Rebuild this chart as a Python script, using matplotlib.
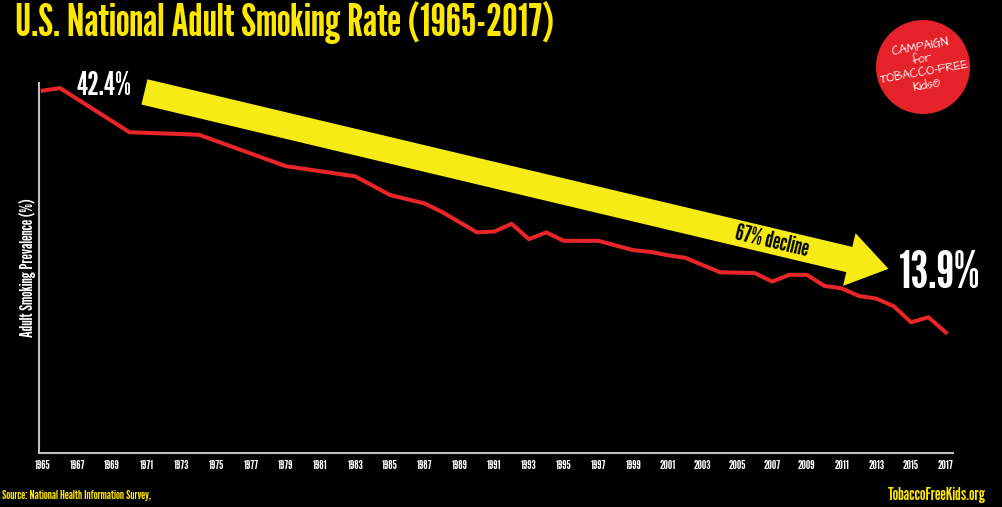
import matplotlib
matplotlib.use("Agg")
import matplotlib.pyplot as plt
from matplotlib.patches import Circle

plt.rcParams['font.family'] = ['League Gothic', 'Antonio', 'DejaVu Sans']

# adult smoking prevalence (%)
years = [1965, 1966, 1970, 1974, 1979, 1983, 1985, 1987, 1988, 1990, 1991,
         1992, 1993, 1994, 1995, 1997, 1999, 2000, 2001, 2002, 2004, 2006,
         2007, 2008, 2009, 2010, 2011, 2012, 2013, 2014, 2015, 2016, 2017]
rates = [42.4, 42.7, 37.5, 37.2, 33.5, 32.3, 30.1, 29.1, 28.1, 25.7, 25.8,
         26.7, 24.9, 25.7, 24.7, 24.7, 23.6, 23.4, 23.0, 22.7, 21.0, 20.9,
         19.9, 20.7, 20.7, 19.4, 19.1, 18.2, 17.9, 17.0, 15.1, 15.7, 13.9]
tick_years = list(range(1965, 2018, 2))
first_label = "42.4%"
last_label = "13.9%"
decline_label = "67% decline"

yellow = "#F7EB15"
title_yellow = "#FFE800"
red = "#E8262A"

fig = plt.figure(figsize=(10.03, 5.07), dpi=100, facecolor="black")
ax = fig.add_axes([0.0389, 0.1065, 0.911, 0.7298])
ax.set_facecolor("black")

ax.plot(years, rates, color=red, lw=2.9, solid_joinstyle="round", zorder=3)

ax.set_xlim(1964.79, 2017.4)
ax.set_ylim(-0.3, 43.3)
ax.set_xticks(tick_years)
ax.set_xticklabels([str(y) for y in tick_years], color="white", fontsize=9)
ax.set_yticks([])
ax.tick_params(axis="x", length=0, pad=5)
for s in ["top", "right"]:
    ax.spines[s].set_visible(False)
for s in ["left", "bottom"]:
    ax.spines[s].set_color("#bfbfbf")
    ax.spines[s].set_linewidth(1.5)
ax.set_ylabel("Adult Smoking Prevalence (%)", color="white", fontsize=12.5, labelpad=2)

# big decline arrow
ax.annotate("", xy=(2013.7, 21.4), xytext=(1970.86, 42.25),
            arrowprops=dict(arrowstyle="simple,head_length=2.9,head_width=3.9,tail_width=1.87",
                            fc=yellow, ec="none", shrinkA=0, shrinkB=0,
                            mutation_scale=10),
            zorder=2)
ax.text(2007.0, 24.6, decline_label, rotation=-13.4, ha="center", va="center",
        fontsize=17, color="black", zorder=4)

ax.annotate(first_label, xy=(years[0], rates[0]), xytext=(34, 5),
            textcoords="offset pixels", ha="left", va="center",
            color="white", fontsize=23)
ax.annotate(last_label, xy=(years[-1], rates[-1]), xytext=(-47, 58),
            textcoords="offset pixels", ha="left", va="center",
            color="white", fontsize=37)

fig.text(0.015, 0.955, "U.S. National Adult Smoking Rate (1965-2017)",
         color=title_yellow, fontsize=32, ha="left", va="center")
fig.text(0.002, 0.023, "Source: National Health Information Survey,",
         color=title_yellow, fontsize=9.3, ha="left", va="center")
fig.text(0.983, 0.023, "TobaccoFreeKids.org", color=title_yellow,
         fontsize=12.8, ha="right", va="center")

# logo badge
logo = Circle((9.23, 4.40), 0.47, transform=fig.dpi_scale_trans,
              facecolor="#E52129", edgecolor="none")
fig.add_artist(logo)
fig.text(0.921, 0.868, "CAMPAIGN\nfor\nTOBACCO-FREE\nKids\u00ae", color="white",
         fontsize=8.5, ha="center", va="center", rotation=10,
         linespacing=0.9, family=['Architects Daughter', 'DejaVu Sans'])

fig.savefig("out.png", dpi=100, facecolor="black")
